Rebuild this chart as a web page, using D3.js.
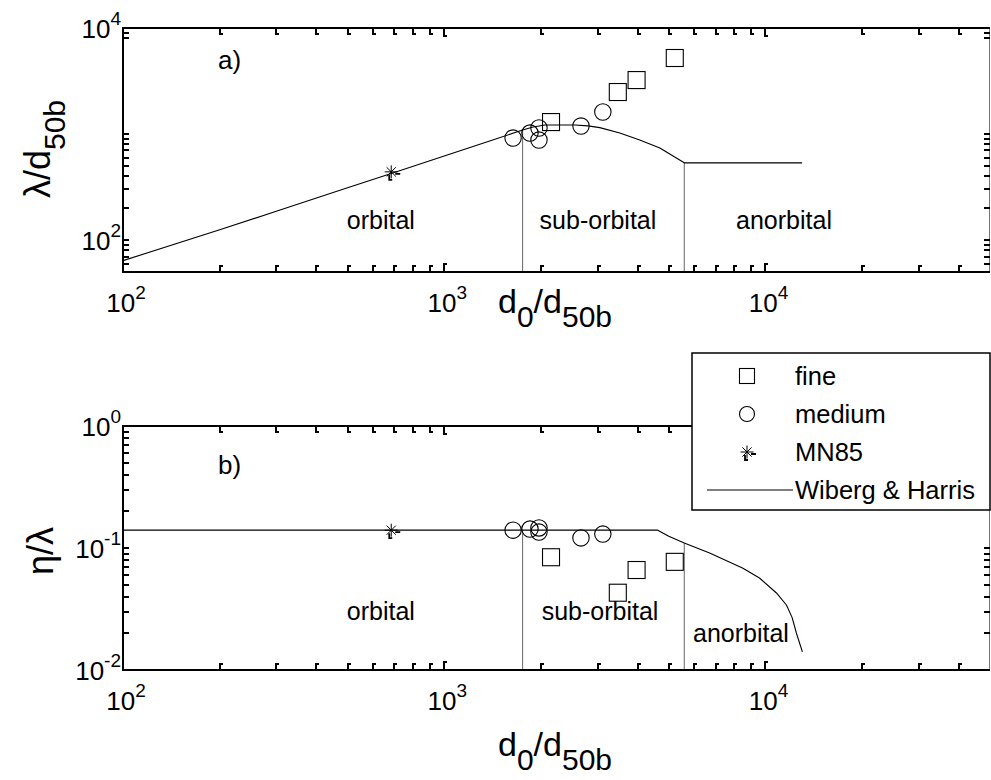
<!DOCTYPE html>
<html>
<head>
<meta charset="utf-8">
<script src="https://cdn.jsdelivr.net/npm/d3@7"></script>
<style>
  body { margin: 0; background: #fff; }
  svg { display: block; }
  text { font-family: "Liberation Sans", Arial, sans-serif; fill: #000; }
</style>
</head>
<body>
<svg id="chart" width="991" height="780"></svg>
<script>
// ---- Measured bed forms ----
const fineD0 = [2150, 3470, 3970, 5220];
const fineLambda = [1297, 2490, 3228, 5213];
const fineEta = [0.084, 0.043, 0.066, 0.077];

const mediumD0 = [1638, 1849, 1972, 1972, 2665, 3117];
const mediumLambda = [917, 1022, 1140, 878, 1190, 1613];
const mediumEta = [0.140, 0.143, 0.146, 0.135, 0.121, 0.130];

const mn85D0 = [684];
const mn85Lambda = [440];
const mn85Eta = [0.14];

// ---- Wiberg & Harris predictor ----
const whD0 = [100, 200, 300, 500, 684, 1000, 1400, 1754, 1890, 2060, 2550, 2800, 3050, 3520, 4060, 4690, 5587, 13000];
const whLambda = [64, 125, 187, 311, 425, 622, 868, 1090, 1164, 1216, 1216, 1195, 1150, 1022, 878, 738, 535, 535];

const whEtaD0 = [100, 1754, 4620, 5000, 5587, 6700, 8480, 9580, 10820, 11620, 12100, 12480, 13030];
const whEta = [0.14, 0.14, 0.14, 0.125, 0.110, 0.091, 0.0686, 0.0568, 0.0428, 0.0341, 0.027, 0.0201, 0.0141];

// regime limits (d0/d50b) and where the regime names sit
const regimeBounds = [1754, 5587];
const regimeNames = ["orbital", "sub-orbital", "anorbital"];
const regimeLabelTopD0 = [635, 3010, 11420];
const regimeLabelBotD0 = [635, 3055, 8390];

// ---- Axis ticks ----
const xMinorTicks = [200, 300, 400, 500, 600, 700, 800, 900, 1000, 2000, 3000, 4000, 5000, 6000, 7000, 8000, 9000, 10000, 20000, 30000, 40000];
const xTickLabels = [100, 1000, 10000];
const yTopTicks = [60, 70, 80, 90, 100, 200, 300, 400, 500, 600, 700, 800, 900, 1000, 8000, 9000];
const yTopTickLabels = [100, 10000];
const yBotTicks = [0.02, 0.03, 0.04, 0.05, 0.06, 0.07, 0.08, 0.09, 0.1, 0.2, 0.3, 0.4, 0.5, 0.6, 0.7, 0.8, 0.9];
const yBotTickLabels = [0.01, 0.1, 1];

const legendNames = ["fine", "medium", "MN85", "Wiberg & Harris"];

const svg = d3.select("#chart");
const L = 123, R = 990;

const x = d3.scaleLog().domain([100, 50000]).range([L, R]);
const yTop = d3.scaleLog().domain([50, 10000]).range([272, 28]);
const yBot = d3.scaleLog().domain([0.01, 1]).range([670, 426]);

const FONT = 25;

function powerLabel(g, px, py, value, anchor) {
  const e = Math.round(Math.log10(value));
  const t = g.append("text")
    .attr("x", px).attr("y", py)
    .attr("text-anchor", anchor)
    .style("font-size", "26px");
  t.append("tspan").text("10");
  t.append("tspan").attr("dy", -13).style("font-size", "19px").text(e < 0 ? "-" + (-e) : String(e));
}

function drawFrame(ys) {
  const g = svg.append("g");
  const [yb, yt] = ys.range();
  g.append("line").attr("x1", R - 0.5).attr("x2", R - 0.5).attr("y1", yt).attr("y2", yb)
    .attr("stroke", "#777").attr("stroke-width", 1);
  g.append("line").attr("x1", L).attr("x2", L).attr("y1", yt - 1).attr("y2", yb + 1)
    .attr("stroke", "#000").attr("stroke-width", 2);
  g.append("line").attr("x1", L).attr("x2", R).attr("y1", yb).attr("y2", yb)
    .attr("stroke", "#000").attr("stroke-width", 2);
  g.append("line").attr("x1", L).attr("x2", R).attr("y1", yt).attr("y2", yt)
    .attr("stroke", "#000").attr("stroke-width", 2);
  return g;
}

function drawTicks(ys, yTicks, yLabels, clip) {
  const g = svg.append("g");
  const [yb, yt] = ys.range();
  const tk = { fill: "none", stroke: "#000", "stroke-width": 2 };
  const put = (sel) => { Object.entries(tk).forEach(([k, v]) => sel.attr(k, v)); return sel; };

  xMinorTicks.forEach(v => {
    const px = Math.round(x(v));
    const len = [1000, 10000].includes(v) ? 8 : 6;
    put(g.append("path").attr("d", `M${px},${yb} V${yb - len} H${px + 3}`));
    if (!clip || px < clip.x) {
      put(g.append("path").attr("d", `M${px},${yt} V${yt + len} H${px + 3}`));
    }
  });
  yTicks.forEach(v => {
    const py = Math.round(ys(v));
    put(g.append("path").attr("d", `M${L},${py} H${L + 6}`));
    if (!clip || py > clip.y) {
      put(g.append("path").attr("d", `M${R},${py} H${R - 6}`));
    }
  });

  xTickLabels.forEach(v => powerLabel(g, x(v) + 3, yb + 40, v, "middle"));
  yLabels.forEach(v => powerLabel(g, 121, ys(v) + 10, v, "end"));
  return g;
}

function lineAt(d0s, vals, target) {
  return vals[d0s.indexOf(target)];
}

function drawRegimes(g, ys, vals, d0s) {
  const [yb] = ys.range();
  regimeBounds.forEach(b => {
    g.append("line")
      .attr("x1", x(b)).attr("x2", x(b))
      .attr("y1", yb).attr("y2", ys(lineAt(d0s, vals, b)))
      .attr("stroke", "#666").attr("stroke-width", 1);
  });
}

function drawCurve(g, ys, d0s, vals) {
  g.append("path")
    .datum(d0s.map((d, i) => [d, vals[i]]))
    .attr("d", d3.line().x(d => x(d[0])).y(d => ys(d[1])))
    .attr("fill", "none").attr("stroke", "#000").attr("stroke-width", 1.1)
    .attr("stroke-linejoin", "round");
}

function square(g, cx, cy, s) {
  g.append("rect").attr("x", cx - s / 2).attr("y", cy - s / 2)
    .attr("width", s).attr("height", s)
    .attr("fill", "none").attr("stroke", "#000").attr("stroke-width", 1.1);
}
function circle(g, cx, cy, r) {
  g.append("circle").attr("cx", cx).attr("cy", cy).attr("r", r)
    .attr("fill", "none").attr("stroke", "#000").attr("stroke-width", 1.1);
}
function asterisk(g, cx, cy) {
  const r = 6.5;
  const p = [];
  for (let k = 0; k < 4; k++) {
    const a = k * Math.PI / 4;
    p.push(`M${cx - r * Math.cos(a)},${cy - r * Math.sin(a)}L${cx + r * Math.cos(a)},${cy + r * Math.sin(a)}`);
  }
  g.append("path").attr("d", p.join("")).attr("stroke", "#000").attr("stroke-width", 1);
  // error-bar stubs
  g.append("path")
    .attr("d", `M${cx + 4},${cy + 2} h5 M${cx - 2},${cy + 3} v5 h3`)
    .attr("fill", "none").attr("stroke", "#000").attr("stroke-width", 1.8);
}

function drawMarkers(g, ys, fineV, medV, mnV) {
  fineD0.forEach((d, i) => square(g, x(d), ys(fineV[i]), 17));
  mediumD0.forEach((d, i) => circle(g, x(d), ys(medV[i]), 8.2));
  mn85D0.forEach((d, i) => asterisk(g, x(d), ys(mnV[i])));
}

function axisTitleX(yBase) {
  const t = svg.append("text").attr("x", 555).attr("y", yBase)
    .attr("text-anchor", "middle").style("font-size", "34px");
  t.append("tspan").text("d");
  t.append("tspan").attr("dy", 14).style("font-size", "30px").text("0");
  t.append("tspan").attr("dy", -14).text("/d");
  t.append("tspan").attr("dy", 14).style("font-size", "30px").text("50b");
}

// ---------- Panel a ----------
const ga = svg.append("g");
drawRegimes(ga, yTop, whLambda, whD0);
drawCurve(ga, yTop, whD0, whLambda);
drawMarkers(ga, yTop, fineLambda, mediumLambda, mn85Lambda);
regimeNames.forEach((n, i) => ga.append("text")
  .attr("x", x(regimeLabelTopD0[i])).attr("y", 229)
  .attr("text-anchor", "middle").style("font-size", FONT + "px").text(n));
ga.append("text").attr("x", 218).attr("y", 69).style("font-size", "26px").text("a)");
drawFrame(yTop);
drawTicks(yTop, yTopTicks, yTopTickLabels, null);

// ---------- Panel b ----------
const gb = svg.append("g");
drawRegimes(gb, yBot, whEta, whEtaD0);
drawCurve(gb, yBot, whEtaD0, whEta);
drawMarkers(gb, yBot, fineEta, mediumEta, mn85Eta);
[620, 620, 642].forEach((yy, i) => gb.append("text")
  .attr("x", x(regimeLabelBotD0[i])).attr("y", yy)
  .attr("text-anchor", "middle").style("font-size", FONT + "px").text(regimeNames[i]));
gb.append("text").attr("x", 218).attr("y", 474).style("font-size", "26px").text("b)");
drawFrame(yBot);
drawTicks(yBot, yBotTicks, yBotTickLabels, { x: 692, y: 512 });

// axis titles
axisTitleX(313);
axisTitleX(756);

const yt1 = svg.append("text").attr("transform", "translate(50,149) rotate(-90)")
  .attr("text-anchor", "middle").style("font-size", "36px");
yt1.append("tspan").text("λ/d");
yt1.append("tspan").attr("dy", 15).style("font-size", "30px").text("50b");

svg.append("text").attr("transform", "translate(53,551) rotate(-90)")
  .attr("text-anchor", "middle").style("font-size", "36px").text("η/λ");

// ---------- Legend ----------
const lg = svg.append("g");
lg.append("rect").attr("x", 692).attr("y", 353).attr("width", 298).attr("height", 157)
  .attr("fill", "#fff").attr("stroke", "#000").attr("stroke-width", 1.5);
const rowY = [376, 414, 452, 490];
square(lg, 747, rowY[0], 15);
circle(lg, 747, rowY[1], 7.5);
asterisk(lg, 747, rowY[2]);
lg.append("line").attr("x1", 707).attr("x2", 793).attr("y1", rowY[3]).attr("y2", rowY[3])
  .attr("stroke", "#000").attr("stroke-width", 1.1);
legendNames.forEach((n, i) => lg.append("text")
  .attr("x", 795).attr("y", rowY[i] + 9).style("font-size", "25.5px").text(n));
</script>
</body>
</html>
